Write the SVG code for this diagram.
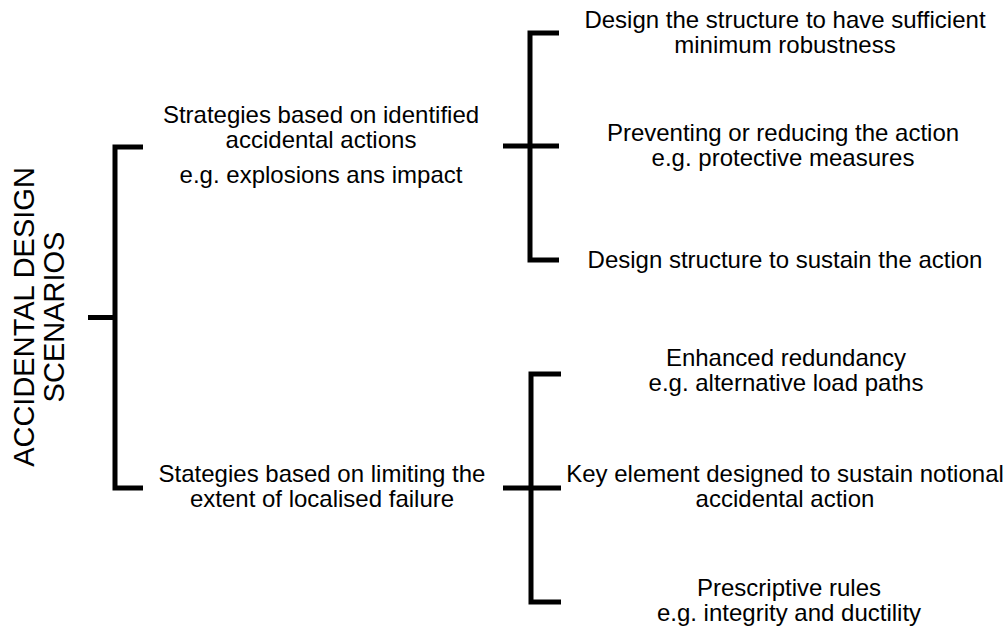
<svg xmlns="http://www.w3.org/2000/svg" width="1008" height="628" viewBox="0 0 1008 628">
<style>
text{font-family:"Liberation Sans",Arial,sans-serif;font-size:24px;fill:#000;text-anchor:middle}
.title{font-size:29px}
.br{fill:none;stroke:#000;stroke-width:5;stroke-linecap:butt;stroke-linejoin:miter}
</style>
<rect width="1008" height="628" fill="#fff"/>
<g id="connectors">
<path class="br" d="M143,147 H115 V488 H143"/>
<path class="br" d="M88,317.5 H115"/>
<path class="br" d="M559,33 H530 V260 H559"/>
<path class="br" d="M503,146 H559"/>
<path class="br" d="M561,374 H531 V602 H561"/>
<path class="br" d="M503,488 H561"/>
</g>
<g id="root">
<text class="title" transform="translate(34,317) rotate(-90)"><tspan x="0" y="0">ACCIDENTAL DESIGN</tspan><tspan x="0" y="30">SCENARIOS</tspan></text>
</g>
<g id="strategy-identified">
<text x="321" y="123">Strategies based on identified</text>
<text x="321" y="148">accidental actions</text>
<text x="321" y="183">e.g. explosions ans impact</text>
</g>
<g id="strategy-limiting">
<text x="322" y="482">Stategies based on limiting the</text>
<text x="322" y="507">extent of localised failure</text>
</g>
<g id="robustness">
<text x="785" y="28">Design the structure to have sufficient</text>
<text x="785" y="53">minimum robustness</text>
</g>
<g id="preventing">
<text x="783" y="141">Preventing or reducing the action</text>
<text x="783" y="166">e.g. protective measures</text>
</g>
<g id="sustain">
<text x="785" y="268">Design structure to sustain the action</text>
</g>
<g id="redundancy">
<text x="786" y="366">Enhanced redundancy</text>
<text x="786" y="391">e.g. alternative load paths</text>
</g>
<g id="key-element">
<text x="785" y="482">Key element designed to sustain notional</text>
<text x="785" y="507">accidental action</text>
</g>
<g id="prescriptive">
<text x="789" y="596">Prescriptive rules</text>
<text x="789" y="621">e.g. integrity and ductility</text>
</g>
</svg>
